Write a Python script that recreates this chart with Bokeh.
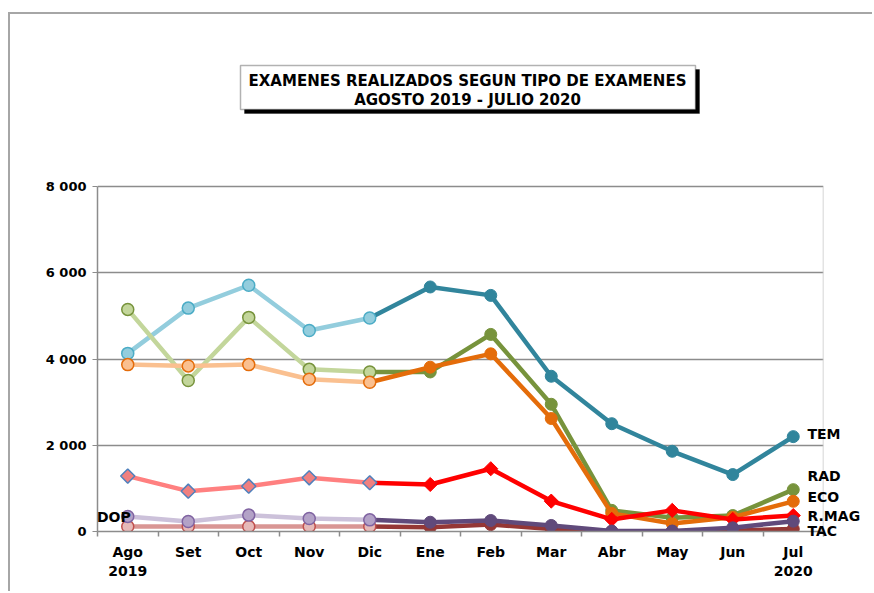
import math
from bokeh.plotting import figure
from bokeh.models import Range1d, FixedTicker, Label, BoxAnnotation, LinearAxis
from bokeh.embed import file_html
from bokeh.resources import INLINE

# ---------------- data ----------------
months = ["Ago", "Set", "Oct", "Nov", "Dic", "Ene", "Feb", "Mar", "Abr", "May", "Jun", "Jul"]
month_labels = ["Ago\n2019", "Set", "Oct", "Nov", "Dic", "Ene", "Feb", "Mar", "Abr", "May", "Jun", "Jul\n2020"]
tem = [4130, 5180, 5710, 4660, 4950, 5670, 5475, 3600, 2500, 1860, 1320, 2200]
rad = [5150, 3500, 4965, 3760, 3700, 3700, 4570, 2950, 490, 320, 370, 970]
eco = [3870, 3840, 3870, 3530, 3460, 3810, 4120, 2620, 420, 185, 330, 700]
rmag = [1285, 935, 1050, 1245, 1130, 1090, 1455, 705, 280, 490, 280, 370]
tac = [115, 115, 115, 115, 115, 100, 160, 60, 5, 5, 20, 60]
dop = [350, 230, 380, 300, 270, 215, 255, 140, 10, 10, 85, 240]
y_ticks = [0, 2000, 4000, 6000, 8000]
y_tick_labels = ["0", "2 000", "4 000", "6 000", "8 000"]
title_lines = ["EXAMENES REALIZADOS SEGUN TIPO DE EXAMENES", "AGOSTO 2019 - JULIO 2020"]
split = 4  # Dic: light colours up to here, dark afterwards

# name, values, light line, light marker fill, light marker border, dark colour, marker, label y-offset (px)
series = [
    ("TEM", tem, "#93CDDD", "#93CDDD", "#4BACC6", "#31859C", "circle", 3),
    ("RAD", rad, "#C3D69B", "#C3D69B", "#77933C", "#77933C", "circle", 14),
    ("ECO", eco, "#FAC090", "#FAC090", "#E46C0A", "#E46C0A", "circle", 4),
    ("R.MAG", rmag, "#FF8080", "#F08080", "#4F81BD", "#FF0000", "diamond", 0),
    ("TAC", tac, "#D99694", "#E6B9B8", "#C0504D", "#953735", "circle", -2),
    ("DOP", dop, "#CCC1DA", "#B3A2C7", "#8064A2", "#604A7B", "circle", None),
]

x = [i + 0.5 for i in range(len(months))]

# ---------------- layout ----------------
W, H = 864, 579          # canvas (page offset 10,14 via css margin+border)
ML, MR, MB = 87, 51, 62  # frame: left 97, right 823, bottom 531 (page px)
FRAME_H = H - MB
PLOT_H = 345             # pixel height of 0..8000
k = PLOT_H / y_ticks[-1]
y_top = FRAME_H / k
px_per_x = (W - ML - MR) / len(months)


def dx(px):  # page px -> data x
    return (px - 97) / px_per_x


def dy(py):  # page py -> data y
    return (531 - py) / k


p = figure(width=W, height=H, output_backend="svg", toolbar_location=None,
           title_location=None,
           x_range=Range1d(0, len(months)), y_range=Range1d(0, y_top),
           min_border_left=ML, min_border_right=MR, min_border_top=0, min_border_bottom=MB,
           styles={"margin-left": "8px", "margin-top": "12px",
                   "border-left": "2px solid #A6A6A6", "border-top": "2px solid #A6A6A6"})
p.background_fill_color = "white"
p.border_fill_color = "white"
p.outline_line_color = None
p.xgrid.grid_line_color = None
p.ygrid.grid_line_color = "#8C8C8C"
p.ygrid.grid_line_width = 1.5

FONT = "DejaVu Sans"
p.xaxis.ticker = FixedTicker(ticks=x, minor_ticks=list(range(len(months) + 1)))
p.xaxis.major_label_overrides = {xi: lab for xi, lab in zip(x, month_labels)}
p.xaxis.major_tick_out = 0
p.xaxis.major_tick_in = 0
p.xaxis.minor_tick_out = 5
p.xaxis.minor_tick_in = 0
p.xaxis.minor_tick_line_color = "#8C8C8C"
p.xaxis.minor_tick_line_width = 1.5
p.xaxis.axis_line_color = "#8C8C8C"
p.xaxis.axis_line_width = 1.5
p.xaxis.major_label_standoff = 7
p.xaxis.major_label_text_font_size = "14px"

p.yaxis.ticker = FixedTicker(ticks=y_ticks)
p.yaxis.bounds = (y_ticks[0], y_ticks[-1])
p.yaxis.major_label_overrides = {t: l for t, l in zip(y_ticks, y_tick_labels)}
p.yaxis.major_tick_out = 5
p.yaxis.major_tick_in = 0
p.yaxis.minor_tick_out = 0
p.yaxis.minor_tick_in = 0
p.yaxis.major_tick_line_color = "#8C8C8C"
p.yaxis.axis_line_color = "#8C8C8C"
p.yaxis.axis_line_width = 1.5
p.yaxis.major_label_standoff = 6
p.yaxis.major_label_text_font_size = "13px"

for ax in (p.xaxis, p.yaxis):
    ax.major_label_text_font = FONT
    ax.major_label_text_font_style = "bold"
    ax.major_label_text_color = "black"

# right border of the plot area
p.segment(x0=[len(months)], x1=[len(months)], y0=[y_ticks[0]], y1=[y_ticks[-1]],
          line_color="#C8C8C8", line_width=1.5)


def draw_markers(xs, ys, mk, fill, border, lw):
    if mk == "diamond":
        p.scatter(xs, ys, marker="square", angle=math.pi / 4, size=10,
                  fill_color=fill, line_color=border, line_width=lw)
    else:
        p.scatter(xs, ys, marker="circle", size=12,
                  fill_color=fill, line_color=border, line_width=lw)


# dark segments first
for name, vals, lline, lfill, lborder, dark, mk, off in series:
    xs, ys = x[split:], vals[split:]
    p.line(xs, ys, line_color=dark, line_width=4.5)
    draw_markers(xs[1:], ys[1:], mk, dark, dark, 1)

# light segments on top
for name, vals, lline, lfill, lborder, dark, mk, off in series:
    xs, ys = x[:split + 1], vals[:split + 1]
    p.line(xs, ys, line_color=lline, line_width=4.5)
    draw_markers(xs, ys, mk, lfill, lborder, 1.5)

# series names at the right: an extra axis on the right side
end_names = [s[0] for s in series if s[7] is not None]
end_pos = [max(0.0, s[1][-1] + s[7] / k) for s in series if s[7] is not None]
rax = LinearAxis(ticker=FixedTicker(ticks=end_pos),
                 major_label_overrides={v: n for v, n in zip(end_pos, end_names)},
                 axis_line_color=None, major_tick_line_color=None, minor_tick_line_color=None,
                 major_tick_out=0, major_tick_in=0, minor_tick_out=0, minor_tick_in=0,
                 major_label_standoff=-16,
                 major_label_text_font=FONT, major_label_text_font_style="bold",
                 major_label_text_font_size="14px", major_label_text_color="black")
p.add_layout(rax, "right")

# DOP name at the left
dop_lab = Label(x=x[0], y=dop[0], text="DOP", text_align="right", text_baseline="middle",
                x_offset=3, y_offset=-1, text_font=FONT, text_font_style="bold",
                text_font_size="14px", text_color="black")
p.add_layout(dop_lab)

# title box with shadow
p.add_layout(BoxAnnotation(left=dx(244), right=dx(699), top=dy(69), bottom=dy(113),
                           fill_color="black", fill_alpha=1, line_color="black"))
p.add_layout(BoxAnnotation(left=dx(240), right=dx(695), top=dy(65), bottom=dy(109),
                           fill_color="white", fill_alpha=1, line_color="black", line_width=1.5))
for i, t in enumerate(title_lines):
    p.add_layout(Label(x=dx(467), y=dy(80 + 19 * i), text=t, text_align="center",
                       text_baseline="middle", text_font=FONT, text_font_style="bold",
                       text_font_size="15px", text_color="black"))

open("out.html", "w").write(file_html(p, INLINE))
